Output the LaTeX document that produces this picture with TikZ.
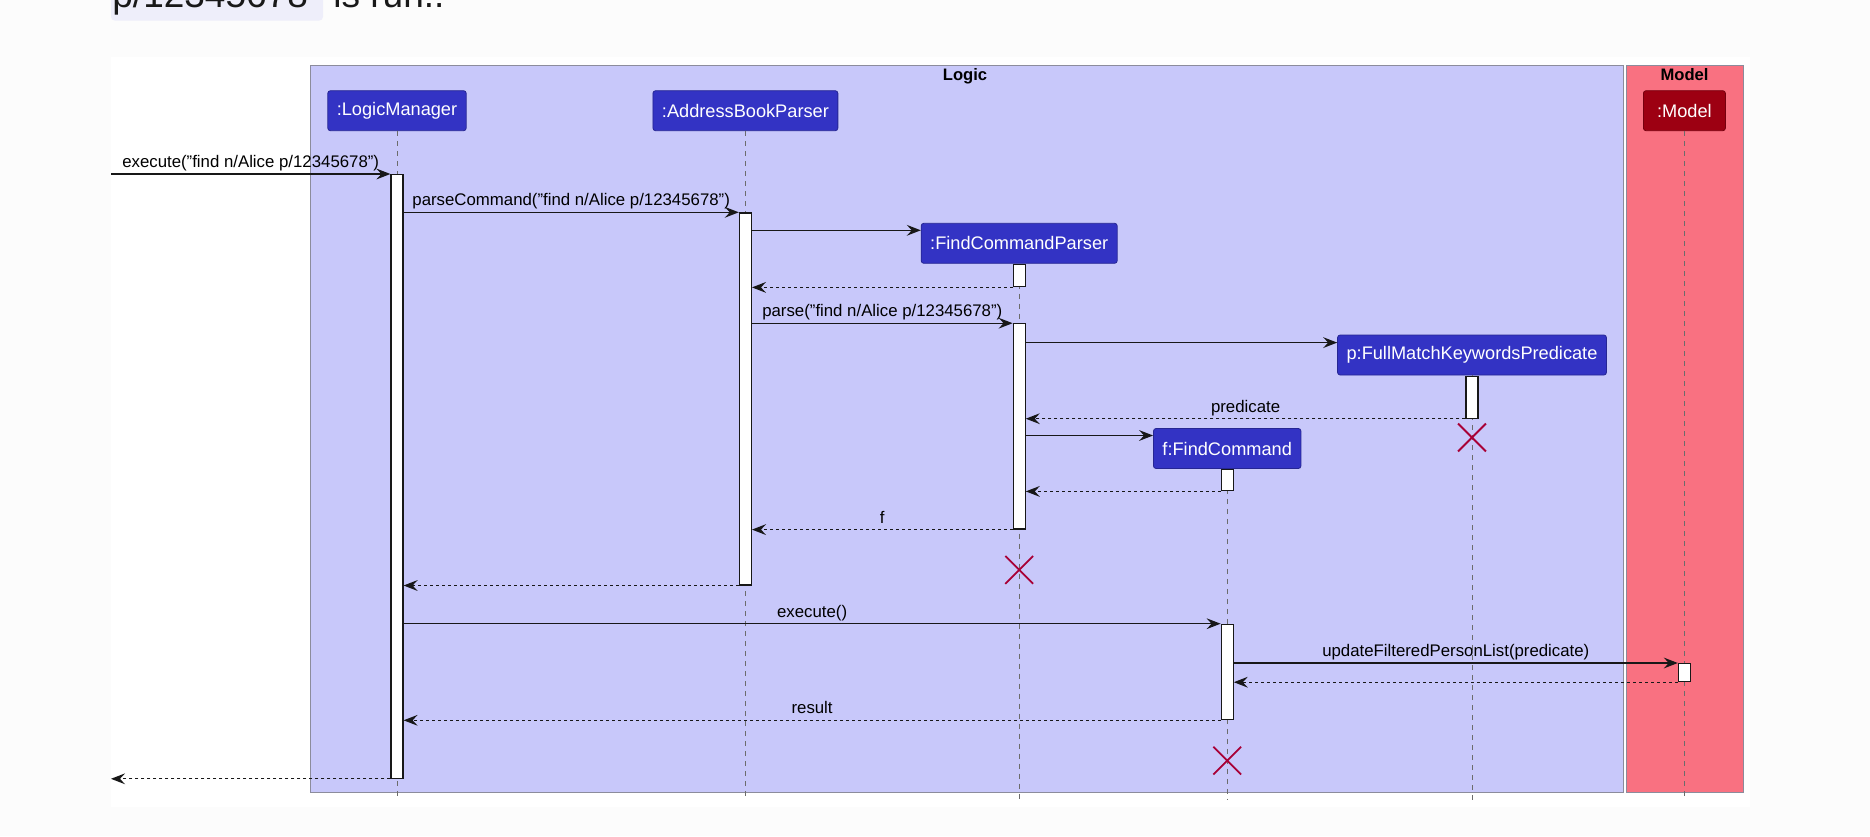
\documentclass[tikz,border=0pt]{standalone}
\usepackage{fontspec}
\setmainfont{Liberation Sans}
\usetikzlibrary{positioning,arrows.meta,shapes.misc}

\definecolor{logicfill}{HTML}{3333C4}
\definecolor{logicbg}{HTML}{C8C8FA}
\definecolor{modelfill}{HTML}{9D0012}
\definecolor{modelbg}{HTML}{F97181}
\definecolor{destroyred}{HTML}{A80036}
\definecolor{codebg}{HTML}{EEEEFA}
\definecolor{pagebg}{HTML}{FCFCFC}
\definecolor{linegrey}{HTML}{181818}
\definecolor{framegrey}{HTML}{8C8C9C}

\tikzset{
  participant/.style={rectangle, rounded corners=1.3pt, fill=logicfill, draw=logicfill!75!black,
    line width=0.4pt, text=white, font=\fontsize{9.1}{11}\selectfont,
    minimum height=20pt, inner xsep=4.5pt, inner ysep=0pt},
  modelpart/.style={participant, fill=modelfill, draw=modelfill!75!black, minimum width=41pt},
  actbar/.style={rectangle, draw=linegrey, fill=white, line width=0.6pt,
    minimum width=6pt, inner sep=0pt, anchor=north},
  lifeline/.style={draw=gray!85!black, line width=0.5pt, dash pattern=on 2.5pt off 2.5pt},
  msg/.style={-{Stealth[length=7pt,width=5.4pt,inset=2.5pt]}, draw=linegrey, line width=0.6pt},
  ret/.style={msg, dash pattern=on 1.5pt off 1.5pt},
  msglabel/.style={font=\fontsize{8.4}{10}\selectfont, anchor=base, yshift=3.2pt, inner sep=0pt, text=black},
  frametitle/.style={font=\bfseries\fontsize{8.3}{10}\selectfont, anchor=base, inner sep=0pt},
  destroyx/.style={cross out, draw=destroyred, line width=0.9pt, minimum size=13pt, inner sep=0pt}
}

\begin{document}
\begin{tikzpicture}[x=0.5pt,y=-0.5pt]
  \clip (0,0) rectangle (1870,836);
  \fill[pagebg] (0,0) rectangle (1870,836);

  % text of the page above the picture
  \fill[codebg, rounded corners=2pt] (111,-40) rectangle (323,20.7);
  \node[anchor=base west, inner sep=0pt, font=\fontsize{18.5}{22}\selectfont, text=black!90] (code) at (112,7) {p/12345678};
  \node[anchor=base west, inner sep=0pt, font=\fontsize{18.5}{22}\selectfont, text=black!90] (runtext) at (333,7) {is run..};

  \fill[white] (111,56.7) rectangle (1750,806.7);

  % packages
  \filldraw[fill=logicbg, draw=framegrey, line width=0.5pt] (310,65.6) rectangle (1623.5,792);
  \filldraw[fill=modelbg, draw=framegrey, line width=0.5pt] (1626,65.6) rectangle (1743.5,792);
  \node[frametitle] (logictitle) at (965,80.7) {Logic};
  \node[frametitle] (modeltitle) at (1684.5,80.7) {Model};

  \coordinate (leftedge) at (111,0);
  \coordinate (lifeend) at (0,800);

  % participants
  \node[participant] (lm) at (397,110.7) {:LogicManager};
  \node[participant] (abp) at (745.4,110.7) {:AddressBookParser};
  \node[participant] (fcp) at (1019.2,243.3) {:FindCommandParser};
  \node[participant] (pred) at (1472,355) {p:FullMatchKeywordsPredicate};
  \node[participant] (fc) at (1227.2,448.5) {f:FindCommand};
  \node[modelpart] (model) at (1684.4,110.7) {:Model};

  \draw[lifeline] (lm) -- (lm |- lifeend);
  \draw[lifeline] (abp) -- (abp |- lifeend);
  \draw[lifeline] (fcp) -- (fcp |- lifeend);
  \draw[lifeline] (pred) -- (pred |- lifeend);
  \draw[lifeline] (fc) -- (fc |- lifeend);
  \draw[lifeline] (model) -- (model |- lifeend);

  % activations
  \node[actbar, minimum height=301.8pt] (lmAct) at (397,174) {};
  \node[actbar, minimum height=186pt] (abpAct) at (745.4,212.3) {};
  \node[actbar, minimum height=11.3pt] (fcpAct1) at (1019.2,263.6) {};
  \node[actbar, minimum height=102.6pt] (fcpAct2) at (1019.2,323.2) {};
  \node[actbar, minimum height=20.9pt] (predAct) at (1472,375.7) {};
  \node[actbar, minimum height=10.75pt] (fcAct1) at (1227.2,468.7) {};
  \node[actbar, minimum height=47.7pt] (fcAct2) at (1227.2,623.7) {};
  \node[actbar, minimum height=9pt] (modelAct) at (1684.4,663) {};

  \coordinate (fcpIn) at ([yshift=-3.7pt]fcp.north west);
  \coordinate (predIn) at ([yshift=-4pt]pred.north west);
  \coordinate (fcIn) at ([yshift=-3.7pt]fc.north west);

  % messages
  \draw[msg] (leftedge |- lmAct.north) -- node[msglabel] {execute("find n/Alice p/12345678")} (lmAct.north west);
  \draw[msg] (lmAct.east |- abpAct.north) -- node[msglabel] {parseCommand("find n/Alice p/12345678")} (abpAct.north west);
  \draw[msg] (abpAct.east |- fcpIn) -- (fcpIn);
  \draw[ret] (fcpAct1.south west) -- (abpAct.east |- fcpAct1.south);
  \draw[msg] (abpAct.east |- fcpAct2.north) -- node[msglabel] {parse("find n/Alice p/12345678")} (fcpAct2.north west);
  \draw[msg] (fcpAct2.east |- predIn) -- (predIn);
  \draw[ret] (predAct.south west) -- node[msglabel] {predicate} (fcpAct2.east |- predAct.south);
  \draw[msg] (fcpAct2.east |- fcIn) -- (fcIn);
  \draw[ret] (fcAct1.south west) -- (fcpAct2.east |- fcAct1.south);
  \draw[ret] (fcpAct2.south west) -- node[msglabel] {f} (abpAct.east |- fcpAct2.south);
  \draw[ret] (abpAct.south west) -- (lmAct.east |- abpAct.south);
  \draw[msg] (lmAct.east |- fcAct2.north) -- node[msglabel] {execute()} (fcAct2.north west);
  \draw[msg] (fcAct2.east |- modelAct.north) -- node[msglabel] {updateFilteredPersonList(predicate)} (modelAct.north west);
  \draw[ret] (modelAct.south west) -- (fcAct2.east |- modelAct.south);
  \draw[ret] (fcAct2.south west) -- node[msglabel] {result} (lmAct.east |- fcAct2.south);
  \draw[ret] (lmAct.south west) -- (leftedge |- lmAct.south);

  % destroyed objects
  \node[destroyx, below=2.45pt of predAct] (predX) {};
  \node[destroyx, below=13.2pt of fcpAct2] (fcpX) {};
  \node[destroyx, below=13.2pt of fcAct2] (fcX) {};
\end{tikzpicture}
\end{document}
